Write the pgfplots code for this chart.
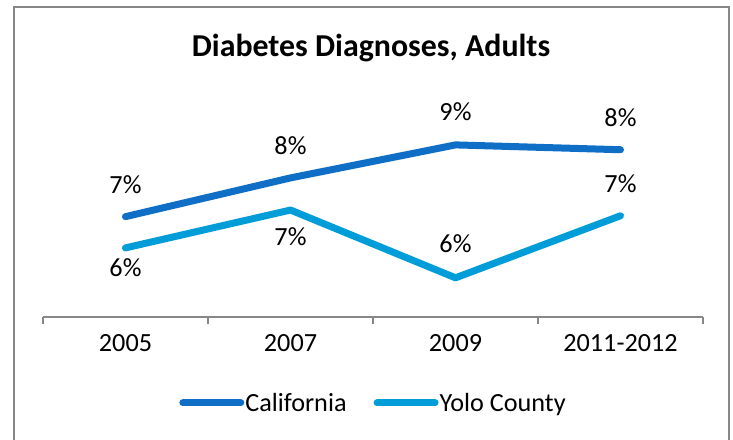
\documentclass[border=0pt]{standalone}
\usepackage{fontspec}
\setmainfont{Carlito}
\usepackage{pgfplots}
\pgfplotsset{compat=1.18}
\usepackage{pgfplotstable}
\definecolor{ca}{HTML}{0F6FC6}
\definecolor{yolo}{HTML}{009DD9}
\definecolor{framegray}{HTML}{878787}
\definecolor{axgray}{HTML}{878787}

\pgfplotstableread{
x y lbl dy
0 6.92 7 32
1 7.80 8 32
2 8.55 9 33
3 8.44 8 32
}\catable
\pgfplotstableread{
x y lbl dy
0 6.21 6 -20
1 7.07 7 -27
2 5.53 6 34
3 6.94 7 32
}\yolotable

\newcommand{\lblfont}{\fontsize{26.3}{30}\selectfont}

\begin{document}
\begin{tikzpicture}
\path[use as bounding box] (0,0) rectangle (733bp,440bp);
\fill[white] (0,0) rectangle (733bp,440bp);
\draw[framegray, line width=2bp] (13.5bp,-20bp) -- (13.5bp,433bp) -- (728.5bp,433bp) -- (728.5bp,-20bp);
\node[font=\fontsize{32}{38}\selectfont\bfseries] at (371bp,392bp) {Diabetes Diagnoses, Adults};
\begin{axis}[
  at={(43bp,123bp)}, anchor=south west,
  width=660bp, height=217bp, scale only axis,
  xmin=-0.5, xmax=3.5, ymin=4.64, ymax=9.57,
  axis x line*=bottom, axis y line*=left,
  x axis line style={draw=axgray, line width=1.3bp, -},
  y axis line style={draw=none},
  ytick=\empty,
  xtick={-0.5,0.5,1.5,2.5,3.5},
  x tick label as interval,
  xticklabels={2005,2007,2009,2011-2012},
  tick align=outside, major tick length=7bp,
  x tick style={draw=axgray, line width=1.3bp},
  xticklabel style={font=\lblfont, yshift=-7bp},
  clip=false,
  legend style={at={(0.5,-0.396)}, anchor=center, draw=none, fill=none,
    legend columns=2, font=\lblfont, nodes={inner sep=1bp},
    /tikz/every even column/.append style={column sep=26bp}},
  legend image code/.code={\draw[#1, line cap=round] (0bp,0bp) -- (58bp,0bp);},
  nodes near coords={\pgfplotspointmeta\%},
  point meta=explicit symbolic,
  visualization depends on={\thisrow{dy} \as \dy},
  every node near coord/.append style={anchor=center, yshift=\dy bp, font=\lblfont, text=black},
]
\addplot[ca, line width=7bp, line cap=round, line join=round, mark=none] table[x=x, y=y, meta=lbl] {\catable};
\addlegendentry{California}
\addplot[yolo, line width=7bp, line cap=round, line join=round, mark=none] table[x=x, y=y, meta=lbl] {\yolotable};
\addlegendentry{Yolo County}
\end{axis}
\end{tikzpicture}
\end{document}
